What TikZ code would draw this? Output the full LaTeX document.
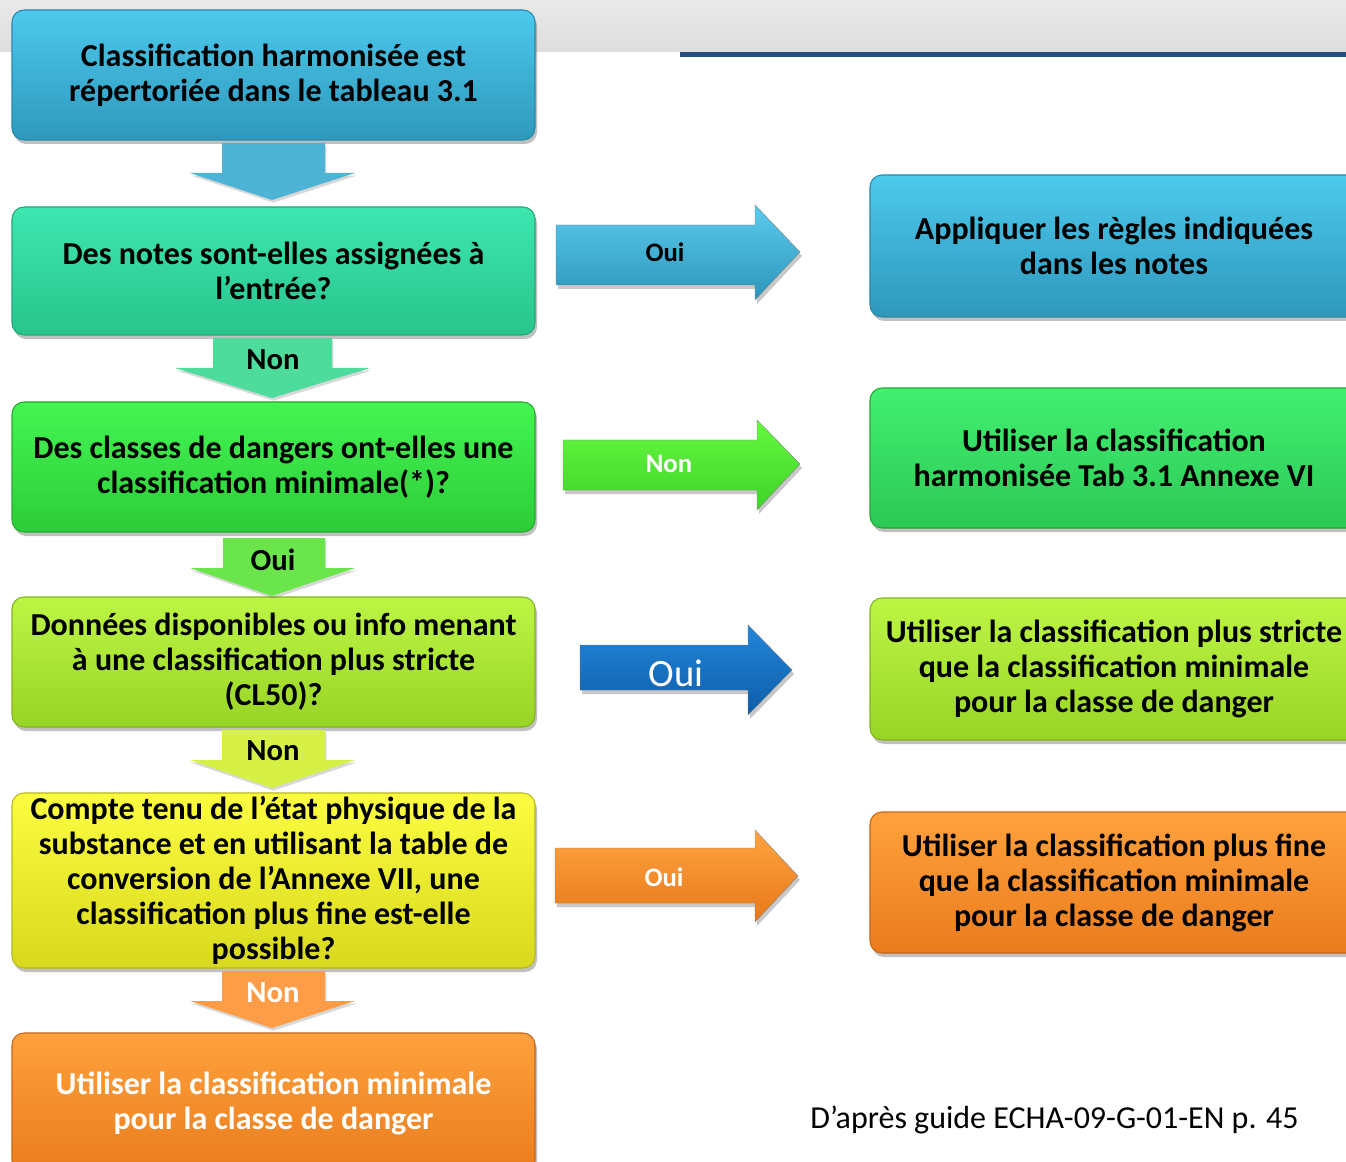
\documentclass[tikz,border=0pt]{standalone}
\usepackage{fontspec}
\setmainfont{Carlito}
\usetikzlibrary{shadows,calc}
\definecolor{bandA}{HTML}{E9E9E9}
\definecolor{bandB}{HTML}{DDDDDD}
\definecolor{rule}{HTML}{244F7E}
\definecolor{blueT}{HTML}{4CC9EC}
\definecolor{blueB}{HTML}{2E98BC}
\definecolor{blueD}{HTML}{2A88A8}
\definecolor{tealT}{HTML}{3EE6B0}
\definecolor{tealB}{HTML}{28C48C}
\definecolor{tealD}{HTML}{22A676}
\definecolor{grnT}{HTML}{44F552}
\definecolor{grnB}{HTML}{2CCC38}
\definecolor{grnD}{HTML}{25A82F}
\definecolor{rgrnT}{HTML}{42F070}
\definecolor{rgrnB}{HTML}{2CC856}
\definecolor{ygT}{HTML}{BDF544}
\definecolor{ygB}{HTML}{98D426}
\definecolor{ygD}{HTML}{80B41E}
\definecolor{yelT}{HTML}{FCFC40}
\definecolor{yelB}{HTML}{D8D81E}
\definecolor{yelD}{HTML}{B8B818}
\definecolor{orT}{HTML}{FFA13E}
\definecolor{orB}{HTML}{EA7C1C}
\definecolor{orD}{HTML}{C86616}
\definecolor{aBlue}{HTML}{4DB4D6}
\definecolor{aTeal}{HTML}{4EDC9C}
\definecolor{aGrn}{HTML}{6AE64C}
\definecolor{aYg}{HTML}{D6F046}
\definecolor{aOr}{HTML}{FF9C48}
\definecolor{hBlueT}{HTML}{5ACBEE}
\definecolor{hBlueB}{HTML}{2E95BA}
\definecolor{hGrnT}{HTML}{66F840}
\definecolor{hGrnB}{HTML}{3ED428}
\definecolor{hDkT}{HTML}{2286DA}
\definecolor{hDkB}{HTML}{0E5CA8}
\definecolor{hOrT}{HTML}{FFA440}
\definecolor{hOrB}{HTML}{E8781A}
\tikzset{
  x=0.75pt, y=-0.75pt,
  box/.style={rounded corners=9pt, line width=0.8pt, align=center,
    font=\fontsize{24}{26.25}\selectfont\bfseries, inner sep=0pt,
    drop shadow={shadow xshift=1.5pt, shadow yshift=-3pt, opacity=0.35, fill=black!70}},
  lbox/.style={box, minimum width=523*0.75pt},
  rbox/.style={box, minimum width=488*0.75pt},
  dnarr/.style={drop shadow={shadow xshift=1pt, shadow yshift=-2pt, opacity=0.25, fill=black!60}},
  harr/.style={draw=white!50!black, line width=0.3pt, drop shadow={shadow xshift=1.5pt, shadow yshift=-3pt, opacity=0.3, fill=black!70}},
  alabel/.style={font=\fontsize{23}{26}\selectfont\bfseries, inner sep=0pt},
  hlabel/.style={font=\fontsize{20}{23}\selectfont\bfseries, inner sep=0pt},
}
\begin{document}
\begin{tikzpicture}
\clip (0,0) rectangle (1346,1162);
\fill[white] (0,0) rectangle (1346,1162);
% top band and rule
\shade[top color=bandA, bottom color=bandB] (0,0) rectangle (1346,52);
\draw[rule, line width=3.75pt] (680,54.5) -- (1346,54.5);

% left column boxes
\node[lbox, draw=blueD, top color=blueT, bottom color=blueB, minimum height=130*0.75pt] (b1) at (273.5,75)
  {Classification harmonisée est\\répertoriée dans le tableau 3.1};
\node[lbox, draw=tealD, top color=tealT, bottom color=tealB, minimum height=128*0.75pt] (b2) at (273.5,271)
  {Des notes sont-elles assignées à\\l’entrée?};
\node[lbox, draw=grnD, top color=grnT, bottom color=grnB, minimum height=130*0.75pt] (b3) at (273.5,467)
  {Des classes de dangers ont-elles une\\classification minimale(*)?};
\node[lbox, draw=ygD, top color=ygT, bottom color=ygB, minimum height=130*0.75pt] (b4) at (273.5,662)
  {Données disponibles ou info menant\\à une classification plus stricte\\(CL50)?};
\node[lbox, draw=yelD, top color=yelT, bottom color=yelB, minimum height=175*0.75pt] (b5) at (273.5,880.5)
  {Compte tenu de l’état physique de la\\substance et en utilisant la table de\\conversion de l’Annexe VII, une\\classification plus fine est-elle\\possible?};
\node[lbox, draw=orD, top color=orT, bottom color=orB, minimum height=140*0.75pt, text=white] (b6) at (273.5,1103)
  {Utiliser la classification minimale\\pour la classe de danger};

% right column boxes
\node[rbox, draw=blueD, top color=blueT, bottom color=blueB, minimum height=142*0.75pt] (r1) at (1114,246)
  {Appliquer les règles indiquées\\dans les notes};
\node[rbox, draw=grnD, top color=rgrnT, bottom color=rgrnB, minimum height=140*0.75pt] (r2) at (1114,458)
  {Utiliser la classification\\harmonisée Tab 3.1 Annexe VI};
\node[rbox, draw=ygD, top color=ygT, bottom color=ygB, minimum height=142*0.75pt] (r3) at (1114,669)
  {Utiliser la classification plus stricte\\que la classification minimale\\pour la classe de danger};
\node[rbox, draw=orD, top color=orT, bottom color=orB, minimum height=141*0.75pt] (r4) at (1114,882.5)
  {Utiliser la classification plus fine\\que la classification minimale\\pour la classe de danger};

% down arrows
\fill[dnarr, aBlue] (222,143) -- (325,143) -- (325,173) -- (355,173) -- (272,200) -- (190,173) -- (222,173) -- cycle;
\fill[dnarr, aTeal] (213,338) -- (332,338) -- (332,368) -- (370,368) -- (272,398) -- (175,368) -- (213,368) -- cycle;
\node[alabel] (n1) at (273,360) {Non};
\fill[dnarr, aGrn] (223,538) -- (325,538) -- (325,568) -- (355,568) -- (272,596) -- (190,568) -- (223,568) -- cycle;
\node[alabel] (o1) at (273,560) {Oui};
\fill[dnarr, aYg] (222,730) -- (325,730) -- (325,760) -- (355,760) -- (272,788) -- (190,760) -- (222,760) -- cycle;
\node[alabel] (n2) at (273,751) {Non};
\fill[dnarr, aOr] (222,971) -- (325,971) -- (325,1001) -- (355,1001) -- (272,1028) -- (190,1001) -- (222,1001) -- cycle;
\node[alabel, text=white] (n3) at (273,993) {Non};

% right arrows
\shade[harr, top color=hBlueT, bottom color=hBlueB] (556,225) -- (755,225) -- (755,205) -- (800,252) -- (755,300) -- (755,285) -- (556,285) -- cycle;
\node[hlabel] (o2) at (665,252) {Oui};
\shade[harr, top color=hGrnT, bottom color=hGrnB] (563,440) -- (757,440) -- (757,420) -- (800,464) -- (757,510) -- (757,490) -- (563,490) -- cycle;
\node[hlabel, text=white] (n4) at (669,464) {Non};
\shade[harr, top color=hDkT, bottom color=hDkB] (580,645) -- (748,645) -- (748,625) -- (792,670) -- (748,715) -- (748,690) -- (580,690) -- cycle;
\node[font=\fontsize{29}{32}\selectfont, text=white, inner sep=0pt] (o3) at (676,673) {Oui};
\shade[harr, top color=hOrT, bottom color=hOrB] (555,848) -- (755,848) -- (755,830) -- (798,876) -- (755,922) -- (755,903) -- (555,903) -- cycle;
\node[hlabel, text=white] (o4) at (664,877) {Oui};

% source
\node[font=\fontsize{24}{28}\selectfont, inner sep=0pt] (src) at (1054.5,1120) {D’après guide ECHA-09-G-01-EN p. 45};
\end{tikzpicture}
\end{document}
